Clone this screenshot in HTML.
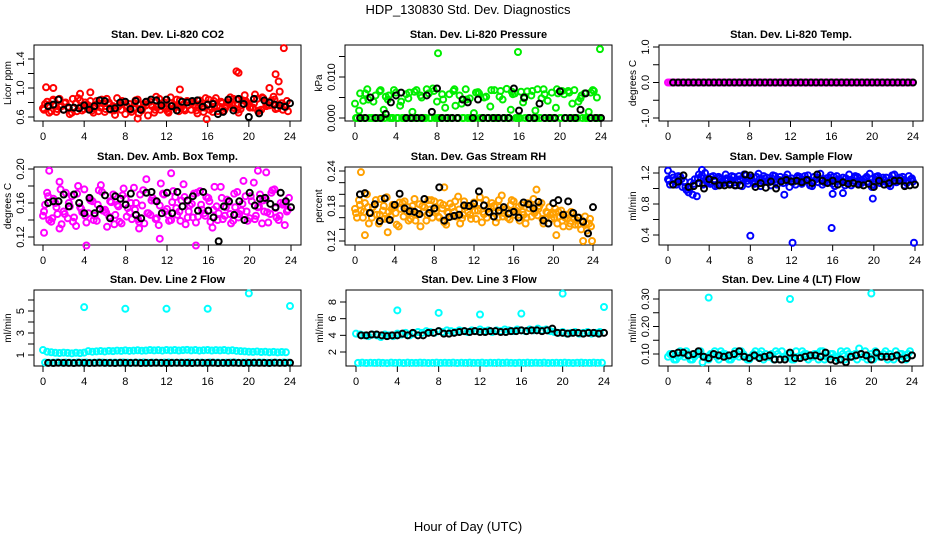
<!DOCTYPE html>
<html><head><meta charset="utf-8">
<style>
html,body{margin:0;padding:0;background:#fff;}
svg{display:block;font-family:"Liberation Sans",sans-serif;}
</style></head>
<body>
<svg id="chart" width="936" height="540" viewBox="0 0 936 540">
<text x="468" y="14" text-anchor="middle" font-size="13">HDP_130830  Std. Dev. Diagnostics</text>
<text x="468" y="531" text-anchor="middle" font-size="13">Hour of Day (UTC)</text>
</svg>
<script>
// ---- data ----
const xTickLabels = ["0","4","8","12","16","20","24"];
const xTickValues = [0,4,8,12,16,20,24];

const co2A = [0.72,0.81,0.68,0.77,0.85,0.70,0.74,0.66,0.79,0.83,0.71,0.76,0.69,0.82,0.73,0.67,0.80,0.75,0.86,0.70,0.64,0.78,0.72,0.84,0.69,0.76,0.81,0.66,0.74,0.79,0.71,0.87,0.73,0.68,0.77,0.82,0.70,0.75,0.83,0.67,0.78,0.72,0.86,0.74,0.69,0.80,0.76,0.84,0.71,0.90,0.78,0.73,0.85,0.70,0.81,0.76,0.88,0.72,0.79,0.74];
const co2B = [0.78,0.66,0.84,0.71,0.75,0.80,0.64,0.73,0.86,0.69,0.77,0.82,0.72,0.68,0.79,0.85,0.70,0.63,0.76,0.81,0.74,0.67,0.83,0.71,0.78,0.62,0.75,0.88,0.70,0.80,0.66,0.76,0.84,0.72,0.69,0.81,0.77,0.65,0.73,0.86,0.70,0.82,0.68,0.79,0.75,0.87,0.72,0.66,0.83,0.80,0.74,0.91,0.69,0.86,0.77,0.83,0.71,0.95,0.76,0.68];
const co2C = [0.70,0.76,0.82,0.67,0.74,0.79,0.72,0.85,0.68,0.75,0.80,0.73,0.66,0.78,0.84,0.71,0.77,0.69,0.74,0.82,0.76,0.70,0.79,0.65,0.73,0.81,0.77,0.70,0.85,0.74,0.68,0.79,0.75,0.83,0.71,0.76,0.80,0.69,0.78,0.73,0.84,0.67,0.75,0.81,0.72,0.78,0.85,0.70,0.76,0.82,0.73,0.79,0.68,0.87,0.75,0.80,0.84,0.77,0.70,0.82];
const co2OutX = [0.3,1.0,3.6,4.6,13.3,18.8,19.0,22.6,22.9,23.4,9.2,15.9,22.0];
const co2OutY = [1.01,1.0,0.92,0.94,0.98,1.23,1.21,1.19,1.09,1.55,0.58,0.57,1.0];
const co2Black = [0.75,0.77,0.84,0.70,0.73,0.73,0.72,0.76,0.70,0.75,0.83,0.82,0.71,0.72,0.80,0.81,0.71,0.82,0.70,0.81,0.84,0.83,0.76,0.84,0.75,0.69,0.81,0.80,0.82,0.83,0.74,0.77,0.78,0.64,0.67,0.84,0.69,0.85,0.78,0.60,0.85,0.65,0.83,0.80,0.77,0.76,0.74,0.79];

const presA = [0.0035,0.0018,0.0042,0.0070,0.0000,0.0055,0.0065,0.0020,0.0045,0.0000,0.0062,0.0030,0.0000,0.0048,0.0015,0.0068,0.0055,0.0000,0.0060,0.0072,0.0040,0.0000,0.0025,0.0058,0.0066,0.0000,0.0035,0.0070,0.0048,0.0012,0.0063,0.0000,0.0052,0.0028,0.0068,0.0000,0.0045,0.0071,0.0020,0.0060,0.0000,0.0038,0.0065,0.0055,0.0018,0.0000,0.0070,0.0042,0.0062,0.0025,0.0000,0.0058,0.0066,0.0035,0.0000,0.0048,0.0060,0.0015,0.0068,0.0050];
const presB = [0,0,0.0060,0,0.0040,0,0,0.0052,0,0.0068,0,0,0.0058,0,0.0064,0,0,0.0070,0,0,0,0.0045,0,0,0.0030,0.0055,0,0,0,0.0062,0,0.0050,0,0,0,0.0066,0,0,0.0058,0,0.0064,0,0,0,0.0070,0.0048,0,0,0,0.0060,0.0066,0,0,0.0068,0.0040,0,0,0.0062,0,0];
const presC = [0,0.0060,0,0.0045,0,0,0.0068,0,0.0055,0,0,0.0040,0,0.0062,0,0,0.0050,0,0,0.0066,0,0.0058,0,0,0.0070,0,0,0.0045,0,0,0.0060,0,0,0.0068,0,0.0052,0,0,0.0064,0,0,0.0048,0,0.0066,0,0,0.0058,0,0,0.0070,0,0,0.0062,0,0,0.0055,0,0,0.0066,0];
const presOutX = [8.1,15.9,23.9];
const presOutY = [0.0158,0.0161,0.0168];
const presBlack = [0,0,0.005,0,0,0.001,0.0038,0.0055,0.0062,0,0,0,0,0.0055,0.0015,0.0072,0,0,0,0,0.0045,0.0038,0,0.0045,0,0,0,0,0,0,0.0072,0.0018,0.005,0,0,0.0035,0,0,0,0.0065,0,0,0,0.002,0.006,0,0,0];

const tempA = [0,0,0,0,0,0,0,0,0,0,0,0,0,0,0,0,0,0,0,0,0,0,0,0,0,0,0,0,0,0,0,0,0,0,0,0,0,0,0,0,0,0,0,0,0,0,0,0,0,0,0,0,0,0,0,0,0,0,0,0];
const tempB = [0,0,0,0,0,0,0,0,0,0,0,0,0,0,0,0,0,0,0,0,0,0,0,0,0,0,0,0,0,0,0,0,0,0,0,0,0,0,0,0,0,0,0,0,0,0,0,0,0,0,0,0,0,0,0,0,0,0,0,0];
const tempBlack = [0,0,0,0,0,0,0,0,0,0,0,0,0,0,0,0,0,0,0,0,0,0,0,0,0,0,0,0,0,0,0,0,0,0,0,0,0,0,0,0,0,0,0,0,0,0,0,0];

const ambA = [0.145,0.172,0.138,0.160,0.185,0.150,0.142,0.168,0.133,0.155,0.176,0.148,0.162,0.139,0.181,0.152,0.144,0.170,0.158,0.136,0.165,0.149,0.178,0.141,0.157,0.188,0.146,0.163,0.134,0.171,0.153,0.140,0.167,0.150,0.182,0.143,0.159,0.137,0.174,0.148,0.166,0.131,0.156,0.179,0.145,0.161,0.139,0.173,0.151,0.168,0.142,0.184,0.155,0.136,0.164,0.147,0.176,0.140,0.158,0.150];
const ambB = [0.158,0.140,0.165,0.147,0.135,0.172,0.156,0.143,0.180,0.149,0.137,0.163,0.145,0.175,0.151,0.132,0.161,0.146,0.138,0.177,0.154,0.141,0.160,0.170,0.136,0.148,0.166,0.142,0.183,0.150,0.139,0.174,0.146,0.163,0.135,0.157,0.171,0.144,0.152,0.167,0.138,0.179,0.148,0.141,0.164,0.136,0.155,0.147,0.186,0.139,0.162,0.145,0.170,0.150,0.137,0.175,0.143,0.160,0.134,0.166];
const ambC = [0.150,0.168,0.142,0.155,0.176,0.147,0.160,0.138,0.171,0.153,0.145,0.165,0.140,0.158,0.173,0.149,0.162,0.135,0.156,0.169,0.144,0.160,0.152,0.138,0.175,0.148,0.163,0.141,0.157,0.170,0.146,0.161,0.154,0.139,0.167,0.150,0.143,0.172,0.158,0.145,0.162,0.152,0.140,0.166,0.155,0.147,0.171,0.143,0.159,0.150,0.168,0.141,0.156,0.163,0.149,0.172,0.154,0.145,0.160,0.152];
const ambOutX = [0.6,1.6,4.2,12.4,14.8,11.3,20.8,21.6,0.1,9.3];
const ambOutY = [0.198,0.130,0.110,0.195,0.110,0.118,0.198,0.196,0.125,0.130];
const ambBlack = [0.160,0.162,0.162,0.170,0.156,0.170,0.160,0.148,0.166,0.148,0.153,0.169,0.142,0.168,0.165,0.158,0.171,0.146,0.142,0.172,0.173,0.162,0.148,0.172,0.148,0.173,0.156,0.163,0.168,0.151,0.173,0.151,0.143,0.115,0.156,0.162,0.146,0.162,0.140,0.172,0.157,0.165,0.166,0.159,0.155,0.172,0.162,0.155];

const rhA = [0.175,0.190,0.160,0.200,0.168,0.182,0.150,0.172,0.195,0.163,0.178,0.145,0.185,0.170,0.158,0.192,0.166,0.180,0.155,0.174,0.188,0.162,0.176,0.148,0.184,0.170,0.196,0.159,0.178,0.165,0.186,0.172,0.152,0.190,0.168,0.180,0.160,0.198,0.174,0.157,0.188,0.170,0.182,0.150,0.176,0.192,0.164,0.185,0.158,0.178,0.168,0.150,0.172,0.160,0.145,0.166,0.155,0.140,0.162,0.150];
const rhB = [0.160,0.172,0.185,0.150,0.178,0.165,0.192,0.158,0.170,0.182,0.148,0.175,0.188,0.155,0.180,0.167,0.145,0.178,0.190,0.160,0.172,0.185,0.152,0.168,0.178,0.162,0.150,0.188,0.170,0.180,0.158,0.195,0.166,0.175,0.185,0.152,0.178,0.168,0.160,0.190,0.172,0.155,0.165,0.185,0.162,0.172,0.180,0.150,0.168,0.158,0.175,0.162,0.145,0.158,0.170,0.148,0.160,0.152,0.138,0.145];
const rhC = [0.168,0.182,0.170,0.178,0.160,0.190,0.165,0.180,0.158,0.175,0.168,0.186,0.162,0.178,0.172,0.155,0.183,0.170,0.165,0.190,0.176,0.160,0.182,0.170,0.162,0.188,0.174,0.165,0.180,0.158,0.172,0.185,0.170,0.160,0.178,0.168,0.190,0.162,0.175,0.182,0.165,0.178,0.170,0.160,0.183,0.168,0.175,0.158,0.170,0.165,0.160,0.170,0.155,0.165,0.150,0.160,0.148,0.155,0.150,0.158];
const rhOutX = [0.6,1.0,9.0,20.3,23.0,23.9,18.3,3.3];
const rhOutY = [0.238,0.130,0.212,0.130,0.120,0.120,0.208,0.135];
const rhBlack = [0.200,0.202,0.168,0.183,0.154,0.193,0.156,0.182,0.201,0.176,0.171,0.170,0.166,0.192,0.168,0.176,0.212,0.155,0.161,0.163,0.165,0.181,0.180,0.184,0.205,0.181,0.170,0.162,0.172,0.178,0.167,0.170,0.160,0.186,0.183,0.176,0.187,0.155,0.150,0.185,0.190,0.165,0.188,0.168,0.160,0.153,0.133,0.178];

const sfA = [1.12,1.18,1.05,1.15,1.09,0.95,0.92,0.90,1.14,1.20,1.08,1.16,1.04,1.12,1.18,1.07,1.15,1.10,1.03,1.17,1.12,1.06,1.19,1.09,1.14,1.04,1.16,1.11,1.07,1.18,1.13,1.05,1.15,1.09,1.17,1.03,1.12,1.19,1.08,1.14,1.06,1.16,1.11,1.04,1.18,1.10,1.15,1.07,1.13,1.19,1.05,1.16,1.09,1.14,1.03,1.18,1.10,1.15,1.07,1.12];
const sfB = [1.05,1.10,1.16,1.02,0.98,1.08,1.12,1.18,1.05,1.09,1.15,1.03,1.13,1.07,1.10,1.16,1.04,1.12,1.18,1.06,1.09,1.15,1.03,1.13,1.08,1.17,1.05,1.10,1.14,1.02,1.09,1.16,1.06,1.12,1.04,1.15,1.08,1.05,1.13,1.17,1.03,1.10,1.14,1.08,1.04,1.16,1.06,1.12,1.09,1.02,1.15,1.07,1.11,1.05,1.17,1.08,1.13,1.04,1.16,1.09];
const sfC = [1.10,1.14,1.08,1.12,1.02,1.00,1.06,1.13,1.17,1.10,1.06,1.12,1.15,1.09,1.13,1.11,1.08,1.16,1.12,1.10,1.14,1.08,1.12,1.16,1.10,1.13,1.09,1.15,1.11,1.12,1.08,1.14,1.10,1.16,1.11,1.09,1.14,1.12,1.10,1.08,1.15,1.12,1.09,1.13,1.11,1.14,1.10,1.08,1.15,1.12,1.10,1.13,1.14,1.09,1.12,1.10,1.14,1.11,1.09,1.13];
const sfOutX = [8.0,12.1,15.9,23.9,11.3,19.9,0.0,3.3,16.0,17.0];
const sfOutY = [0.39,0.30,0.49,0.30,0.92,0.87,1.23,1.24,0.93,0.94];
const sfBlack = [1.05,1.09,1.17,1.02,1.03,1.07,1.00,1.12,1.10,1.04,1.04,1.05,1.04,1.04,1.18,1.17,1.02,1.07,1.01,1.09,1.00,1.09,1.11,1.09,1.10,1.08,1.11,1.07,1.18,1.10,1.07,1.10,1.05,1.08,1.06,1.07,1.05,1.04,1.06,1.02,1.10,1.05,1.07,1.10,1.10,1.03,1.04,1.05];

const l2A = [1.45,1.30,1.25,1.20,1.18,1.22,1.19,1.15,1.20,1.17,1.22,1.35,1.30,1.33,1.36,1.32,1.38,1.35,1.40,1.37,1.42,1.38,1.40,1.43,1.39,1.41,1.45,1.42,1.44,1.40,1.46,1.42,1.45,1.41,1.44,1.47,1.42,1.45,1.40,1.43,1.46,1.41,1.44,1.42,1.45,1.40,1.43,1.38,1.35,1.33,1.30,1.28,1.32,1.27,1.30,1.25,1.28,1.24,1.27,1.25];
const l2B = [0.32,0.30,0.31,0.33,0.30,0.32,0.31,0.30,0.33,0.31,0.32,0.30,0.31,0.33,0.32,0.30,0.31,0.32,0.30,0.33,0.31,0.30,0.32,0.31,0.33,0.30,0.32,0.31,0.30,0.32,0.33,0.31,0.30,0.32,0.31,0.33,0.30,0.31,0.32,0.30,0.33,0.31,0.32,0.30,0.31,0.32,0.33,0.30,0.31,0.32,0.30,0.31,0.33,0.32,0.30,0.31,0.32,0.30,0.33,0.31];
const l2OutX = [4,8,12,16,20,24];
const l2OutY = [5.35,5.2,5.2,5.2,6.6,5.45];
const l2Black = [0.28,0.27,0.29,0.28,0.28,0.27,0.29,0.28,0.27,0.28,0.29,0.28,0.28,0.27,0.29,0.28,0.28,0.29,0.27,0.28,0.28,0.29,0.28,0.27,0.28,0.29,0.28,0.28,0.27,0.29,0.28,0.28,0.29,0.27,0.28,0.28,0.29,0.28,0.27,0.28,0.29,0.28,0.28,0.27,0.29,0.28,0.28,0.29];

const l3A = [4.2,4.1,4.0,3.9,4.1,4.0,3.8,4.1,4.0,3.9,4.2,4.1,4.3,4.0,4.2,4.4,4.3,4.5,4.4,4.3,4.5,4.4,4.6,4.5,4.4,4.6,4.5,4.4,4.6,4.5,4.7,4.5,4.6,4.4,4.6,4.5,4.7,4.6,4.5,4.7,4.6,4.5,4.7,4.6,4.8,4.6,4.7,4.5,4.4,4.3,4.4,4.2,4.3,4.4,4.2,4.3,4.4,4.2,4.3,4.4];
const l3B = [0.70,0.72,0.68,0.71,0.69,0.73,0.70,0.67,0.72,0.70,0.71,0.68,0.73,0.70,0.69,0.72,0.71,0.68,0.70,0.73,0.69,0.71,0.70,0.72,0.68,0.71,0.70,0.73,0.69,0.70,0.72,0.68,0.71,0.70,0.73,0.69,0.72,0.70,0.68,0.71,0.70,0.73,0.69,0.71,0.70,0.72,0.68,0.70,0.71,0.69,0.72,0.70,0.68,0.71,0.73,0.70,0.69,0.72,0.70,0.71];
const l3OutX = [4,8,12,16,20,24];
const l3OutY = [7.0,6.7,6.5,6.6,9.0,7.4];
const l3Black = [4.0,4.0,4.1,4.1,4.0,3.9,4.0,4.0,4.2,4.0,4.3,4.0,4.0,4.3,4.3,4.5,4.2,4.2,4.3,4.4,4.5,4.4,4.5,4.4,4.4,4.5,4.5,4.4,4.4,4.5,4.5,4.6,4.5,4.6,4.6,4.5,4.6,4.8,4.3,4.3,4.2,4.3,4.3,4.2,4.3,4.3,4.2,4.3];

const l4A = [0.09,0.10,0.08,0.11,0.09,0.10,0.08,0.10,0.11,0.09,0.08,0.10,0.09,0.11,0.10,0.08,0.09,0.10,0.11,0.09,0.08,0.10,0.09,0.11,0.10,0.09,0.08,0.10,0.11,0.09,0.10,0.08,0.09,0.11,0.10,0.09,0.10,0.08,0.11,0.09,0.10,0.09,0.08,0.10,0.11,0.09,0.10,0.12,0.09,0.08,0.10,0.11,0.09,0.10,0.08,0.09,0.11,0.10,0.09,0.10];
const l4B = [0.10,0.08,0.09,0.10,0.11,0.08,0.09,0.10,0.07,0.09,0.10,0.11,0.08,0.10,0.09,0.08,0.11,0.09,0.10,0.08,0.09,0.11,0.10,0.08,0.09,0.10,0.11,0.08,0.09,0.10,0.08,0.11,0.09,0.10,0.08,0.09,0.10,0.11,0.08,0.09,0.10,0.09,0.11,0.08,0.10,0.09,0.08,0.10,0.11,0.09,0.08,0.10,0.09,0.11,0.10,0.08,0.09,0.10,0.08,0.11];
const l4OutX = [4,12,20];
const l4OutY = [0.305,0.30,0.32];
const l4Black = [0.100,0.105,0.105,0.095,0.100,0.110,0.090,0.085,0.100,0.095,0.090,0.095,0.100,0.110,0.090,0.085,0.095,0.085,0.090,0.095,0.080,0.080,0.080,0.105,0.085,0.085,0.090,0.095,0.095,0.090,0.105,0.080,0.075,0.080,0.070,0.090,0.095,0.100,0.095,0.080,0.105,0.090,0.090,0.090,0.095,0.080,0.085,0.095];

// y-axis tick values and labels
const co2YTicks=[0.6,0.8,1.0,1.2,1.4], co2YLabels=["0.6","","1.0","","1.4"];
const presYTicks=[0,0.005,0.010,0.015], presYLabels=["0.000","","0.010",""];
const tempYTicks=[-1,-0.5,0,0.5,1], tempYLabels=["-1.0","","0.0","","1.0"];
const ambYTicks=[0.12,0.14,0.16,0.18,0.20], ambYLabels=["0.12","","0.16","","0.20"];
const rhYTicks=[0.12,0.14,0.16,0.18,0.20,0.22,0.24], rhYLabels=["0.12","","","0.18","","","0.24"];
const sfYTicks=[0.4,0.6,0.8,1.0,1.2], sfYLabels=["0.4","","0.8","","1.2"];
const l2YTicks=[1,2,3,4,5,6], l2YLabels=["1","","3","","5",""];
const l3YTicks=[2,4,6,8], l3YLabels=["2","4","6","8"];
const l4YTicks=[0.10,0.15,0.20,0.25,0.30], l4YLabels=["0.10","","0.20","","0.30"];

// ---- rendering ----
const NS="http://www.w3.org/2000/svg";
const svg=document.getElementById('chart');
function mk(tag,attrs,parent){const e=document.createElementNS(NS,tag);for(const k in attrs)e.setAttribute(k,attrs[k]);(parent||svg).appendChild(e);return e;}

const panels=[
 {id:"co2",title:"Stan. Dev. Li-820 CO2",ylab:"Licor ppm",box:[34,301,45,121],xr:[43,290],ym:[0.6,117,1.4,59],color:"#ff0000",A:co2A,B:co2B,C:co2C,ox:co2OutX,oy:co2OutY,K:co2Black,yt:co2YTicks,yl:co2YLabels},
 {id:"pressure",title:"Stan. Dev. Li-820 Pressure",ylab:"kPa",box:[345,612,45,121],xr:[355,601],ym:[0,118,0.010,77],color:"#00ee00",A:presA,B:presB,C:presC,ox:presOutX,oy:presOutY,K:presBlack,yt:presYTicks,yl:presYLabels},
 {id:"li820-temp",title:"Stan. Dev. Li-820 Temp.",ylab:"degrees C",box:[659,923,45,121],xr:[668,913],ym:[-1,118,1,47],color:"#ff00ff",A:tempA,B:tempB,C:[],ox:[],oy:[],K:tempBlack,yt:tempYTicks,yl:tempYLabels},
 {id:"amb-temp",title:"Stan. Dev. Amb. Box Temp.",ylab:"degrees C",box:[34,301,167,245],xr:[43,291],ym:[0.12,237,0.20,169],color:"#ff00ff",A:ambA,B:ambB,C:ambC,ox:ambOutX,oy:ambOutY,K:ambBlack,yt:ambYTicks,yl:ambYLabels},
 {id:"rh",title:"Stan. Dev. Gas Stream RH",ylab:"percent",box:[345,612,167,245],xr:[355,593],ym:[0.12,241,0.24,171],color:"#ffa000",A:rhA,B:rhB,C:rhC,ox:rhOutX,oy:rhOutY,K:rhBlack,yt:rhYTicks,yl:rhYLabels},
 {id:"sample-flow",title:"Stan. Dev. Sample Flow",ylab:"ml/min",box:[659,923,167,245],xr:[668,915],ym:[0.4,235,1.2,173],color:"#0000ff",A:sfA,B:sfB,C:sfC,ox:sfOutX,oy:sfOutY,K:sfBlack,yt:sfYTicks,yl:sfYLabels},
 {id:"line2",title:"Stan. Dev. Line 2 Flow",ylab:"ml/min",box:[34,301,290,366],xr:[43,290],ym:[1,355,5,311],color:"#00ffff",A:l2A,B:l2B,C:[],ox:l2OutX,oy:l2OutY,K:l2Black,yt:l2YTicks,yl:l2YLabels},
 {id:"line3",title:"Stan. Dev. Line 3 Flow",ylab:"ml/min",box:[346,612,290,366],xr:[356,604],ym:[2,352,8,302],color:"#00ffff",A:l3A,B:l3B,C:[],ox:l3OutX,oy:l3OutY,K:l3Black,yt:l3YTicks,yl:l3YLabels},
 {id:"line4",title:"Stan. Dev. Line 4 (LT) Flow",ylab:"ml/min",box:[659,923,290,366],xr:[668,912],ym:[0.10,354,0.30,299],color:"#00ffff",A:l4A,B:l4B,C:[],ox:l4OutX,oy:l4OutY,K:l4Black,yt:l4YTicks,yl:l4YLabels}
];

panels.forEach(p=>{
 const g=mk('g',{});
 
 
 const [bx0,bx1,by0,by1]=p.box;
 const X=h=>p.xr[0]+(p.xr[1]-p.xr[0])*h/24;
 const Y=v=>p.ym[1]+(p.ym[3]-p.ym[1])*(v-p.ym[0])/(p.ym[2]-p.ym[0]);
 const t=mk('text',{x:(bx0+bx1)/2,y:by0-7,'text-anchor':'middle','font-size':11,'font-weight':'bold'},g);
 t.textContent=p.title;
 
 
 const fr=mk('rect',{x:bx0,y:by0,width:bx1-bx0,height:by1-by0,fill:'none',stroke:'#000','stroke-width':1},g);
 
 
 xTickValues.forEach((v,i)=>{
  const x=X(v);
  mk('line',{x1:x,x2:x,y1:by1,y2:by1+6,stroke:'#000'},g);
  const tl=mk('text',{x:x,y:by1+19,'text-anchor':'middle','font-size':11},g);
  tl.textContent=xTickLabels[i];
  
  
 });
 p.yt.forEach((v,i)=>{
  const y=Y(v);
  mk('line',{x1:bx0-6,x2:bx0,y1:y,y2:y,stroke:'#000'},g);
  if(p.yl[i]){
   const tl=mk('text',{x:bx0-10,y:y,'text-anchor':'middle','font-size':11,transform:`rotate(-90 ${bx0-10} ${y})`},g);
   tl.textContent=p.yl[i];
   
   
  }
 });
 const yt=mk('text',{x:bx0-23,y:(by0+by1)/2,'text-anchor':'middle','font-size':10,transform:`rotate(-90 ${bx0-23} ${(by0+by1)/2})`},g);
 yt.textContent=p.ylab;
 
 
 const pts=mk('g',{fill:'none','stroke-width':2},g);
 
 
 p.A.forEach((v,i)=>{const c=mk('circle',{cx:X(i*0.4),cy:Y(v),r:3,stroke:p.color},pts);
  
  });
 p.B.forEach((v,i)=>{const c=mk('circle',{cx:X(i*0.4+0.2),cy:Y(v),r:3,stroke:p.color},pts);
  
  });
 p.C.forEach((v,i)=>{const c=mk('circle',{cx:X(i*0.4+0.1),cy:Y(v),r:3,stroke:p.color},pts);
  
  });
 p.ox.forEach((h,i)=>{const c=mk('circle',{cx:X(h),cy:Y(p.oy[i]),r:3,stroke:p.color},pts);
  
  });
 p.K.forEach((v,i)=>{const c=mk('circle',{cx:X(0.5+i*0.5),cy:Y(v),r:3,stroke:'#000'},pts);
  
  });
});
</script>
</body></html>
